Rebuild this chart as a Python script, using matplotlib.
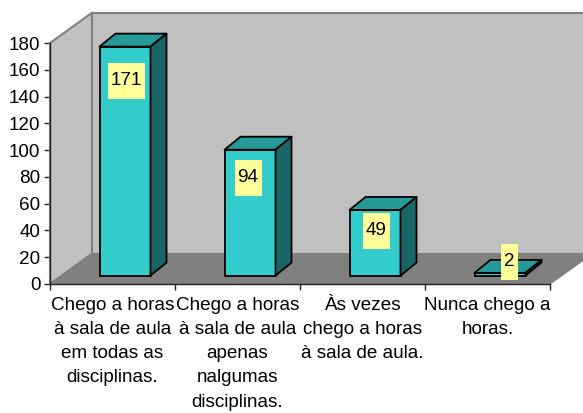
import matplotlib
matplotlib.use("Agg")
import matplotlib.pyplot as plt
from matplotlib.patches import Polygon, Rectangle

plt.rcParams['font.family'] = ['Liberation Sans', 'DejaVu Sans']

categories = [
    "Chego a horas\nà sala de aula\nem todas as\ndisciplinas.",
    "Chego a horas\nà sala de aula\napenas\nnalgumas\ndisciplinas.",
    "Às vezes\nchego a horas\nà sala de aula.",
    "Nunca chego a\nhoras.",
]
values = [171, 94, 49, 2]
y_ticks = [0, 20, 40, 60, 80, 100, 120, 140, 160, 180]

FONT = 13.6

# 3D look, in data units (1 category = 125 px, 1 y unit = 1.339 px)
WALL_DX, WALL_DY = 0.336, 22.6
BAR_OFF_X, BAR_OFF_Y = 0.1, 6.3
BAR_W = 0.408
BAR_DX, BAR_DY = 0.128, 9.7

# label box centre relative to the bar top (y units), and x shift (categories)
label_dy = [-25.4, -20.9, -15.7, 8.2]
label_dx = [0.008, -0.016, 0.008, 0.076]

fig = plt.figure(figsize=(5.83, 4.13), dpi=100)
ax = fig.add_axes([50 / 583, (413 - 284) / 413, 500 / 583, 241 / 413])
ax.set_xlim(-0.5, 3.5)
ax.set_ylim(0, 180)
ax.patch.set_visible(False)
ax.set_axisbelow(True)


def poly(pts, fc, ec, lw=1.2, z=1):
    ax.add_patch(Polygon(pts, closed=True, facecolor=fc, edgecolor=ec,
                         linewidth=lw, clip_on=False, zorder=z, joinstyle="round"))


# walls and floor
x0, x1 = -0.5, 3.5
poly([(x0 + WALL_DX, WALL_DY), (x1 + WALL_DX, WALL_DY), (x1 + WALL_DX, 180 + WALL_DY),
      (x0 + WALL_DX, 180 + WALL_DY)], "#C0C0C0", "#808080", 1.5)
poly([(x0, 0), (x0 + WALL_DX, WALL_DY), (x0 + WALL_DX, 180 + WALL_DY), (x0, 180)],
     "#C0C0C0", "#808080", 1.5)
poly([(x0, 0), (x1, 0), (x1 + WALL_DX, WALL_DY), (x0 + WALL_DX, WALL_DY)],
     "#808080", "#808080", 1.0)

# bars
xs = [i - BAR_W / 2 + BAR_OFF_X for i in range(len(values))]
ax.bar(xs, values, width=BAR_W, bottom=BAR_OFF_Y, align="edge", color="#33CCCC",
       edgecolor="black", linewidth=1.3, zorder=3, clip_on=False)
for left, v in zip(xs, values):
    right = left + BAR_W
    top = v + BAR_OFF_Y
    poly([(left, top), (right, top), (right + BAR_DX, top + BAR_DY), (left + BAR_DX, top + BAR_DY)],
         "#269999", "black", 1.3, 3)
    poly([(right, BAR_OFF_Y), (right + BAR_DX, BAR_OFF_Y + BAR_DY),
          (right + BAR_DX, top + BAR_DY), (right, top)], "#1A6666", "black", 1.3, 3)

# yellow value labels
for i, v in enumerate(values):
    cx = xs[i] + BAR_W / 2 + label_dx[i]
    cy = v + BAR_OFF_Y + label_dy[i]
    w = (len(str(v)) * 10 + 7) / 125
    h = 36 / 1.339
    ax.add_patch(Rectangle((cx - w / 2, cy - h / 2), w, h, facecolor="#FFFF99",
                           edgecolor="none", zorder=4, clip_on=False))
    ax.text(cx, cy, str(v), ha="center", va="center", fontsize=FONT,
            color="black", zorder=5)

# axes
for s in ["top", "right"]:
    ax.spines[s].set_visible(False)
for s in ["left", "bottom"]:
    ax.spines[s].set_linewidth(1.0)
    ax.spines[s].set_color("#222222")
    ax.spines[s].set_zorder(2)
ax.set_yticks(y_ticks)
ax.tick_params(axis="y", labelsize=FONT, length=4, width=1.0, pad=3, color="#222222")
ax.set_xticks([-0.5, 0.5, 1.5, 2.5, 3.5])
ax.set_xticklabels([])
ax.tick_params(axis="x", which="major", length=4, width=1.0, color="#222222")
ax.set_xticks(range(len(categories)), categories, minor=True)
ax.tick_params(axis="x", which="minor", length=0, labelsize=FONT, pad=9)
for lab in ax.get_xticklabels(minor=True):
    lab.set_linespacing(1.56)

fig.savefig("out.png", dpi=100)
